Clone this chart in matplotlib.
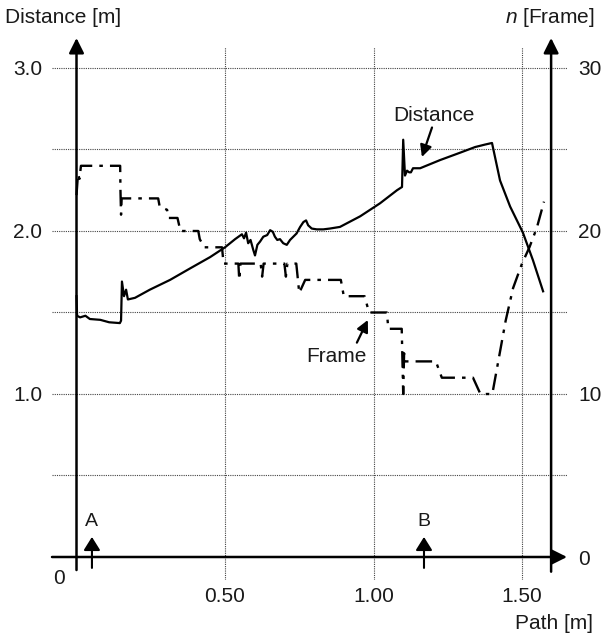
import matplotlib
matplotlib.use("Agg")
import matplotlib.pyplot as plt

plt.rcParams['font.family'] = ['Liberation Sans', 'DejaVu Sans']
plt.rcParams['mathtext.fontset'] = 'custom'
plt.rcParams['mathtext.it'] = 'Liberation Sans:italic'
plt.rcParams['mathtext.rm'] = 'Liberation Sans'

# distance to target [m] along the path [m]
dist_x = [0.0, 0.002, 0.012, 0.03, 0.045, 0.08, 0.11, 0.146, 0.15, 0.153, 0.16, 0.167, 0.173,
          0.197, 0.247, 0.315, 0.382, 0.45, 0.50, 0.534, 0.557, 0.564, 0.571, 0.578, 0.586,
          0.595, 0.601, 0.609, 0.618, 0.629, 0.642, 0.652, 0.661, 0.668, 0.676, 0.685, 0.696,
          0.708, 0.719, 0.730, 0.741, 0.753, 0.764, 0.773, 0.780, 0.792, 0.809, 0.831, 0.853,
          0.887, 0.955, 1.022, 1.079, 1.096, 1.10, 1.106, 1.113, 1.12, 1.126, 1.133, 1.157,
          1.224, 1.291, 1.342, 1.375, 1.399, 1.426, 1.46, 1.503, 1.537, 1.571]
dist_y = [1.60, 1.48, 1.47, 1.48, 1.46, 1.455, 1.44, 1.435, 1.45, 1.69, 1.60, 1.64, 1.58,
          1.59, 1.64, 1.70, 1.77, 1.84, 1.90, 1.95, 1.98, 1.955, 1.99, 1.925, 1.945,
          1.885, 1.85, 1.915, 1.935, 1.965, 1.975, 2.005, 1.995, 1.965, 1.945, 1.95, 1.925,
          1.915, 1.945, 1.965, 1.985, 2.025, 2.055, 2.065, 2.035, 2.015, 2.01, 2.01, 2.015,
          2.025, 2.09, 2.17, 2.25, 2.27, 2.56, 2.34, 2.37, 2.36, 2.36, 2.385, 2.385,
          2.435, 2.48, 2.515, 2.53, 2.54, 2.31, 2.15, 1.99, 1.82, 1.63]

# frame number n along the path [m]
frame_x = [0.0, 0.005, 0.01, 0.015, 0.147, 0.148, 0.15, 0.152, 0.275, 0.28, 0.305, 0.31,
           0.34, 0.35, 0.41, 0.415, 0.43, 0.49, 0.495, 0.545, 0.548, 0.552, 0.62, 0.625,
           0.63, 0.70, 0.705, 0.71, 0.74, 0.75, 0.77, 0.89, 0.90, 0.97, 0.985, 1.045, 1.05,
           1.095, 1.10, 1.103, 1.105, 1.21, 1.23, 1.335, 1.36, 1.40, 1.42, 1.445, 1.47,
           1.50, 1.525, 1.55, 1.574]
frame_n = [22.2, 23.5, 23.2, 24, 24, 22.5, 21, 22, 22, 21.5, 21.3, 20.8,
           20.8, 20, 20, 19.5, 19, 19, 18, 18, 17, 18, 18, 17.2,
           18, 18, 17.2, 18, 18, 16.2, 17, 17, 16, 16, 15, 15, 14,
           14, 10, 12.5, 12, 12, 11, 11, 10, 10, 12, 14.5, 16.5,
           18, 19, 20.2, 21.8]

marker_x = [0.052, 1.17]
marker_labels = ['A', 'B']

fig = plt.figure(figsize=(6.04, 6.35), dpi=100)
ax = fig.add_axes([52 / 604, 1 - 580 / 635, (567 - 52) / 604, (580 - 47) / 635])
ax.set_xlim(-0.0825, 1.6515)
ax.set_ylim(-0.1411, 3.1288)
ax2 = ax.twinx()
ax2.set_ylim(-1.411, 31.288)

for a in (ax, ax2):
    for s in a.spines.values():
        s.set_visible(False)

ink = '#1a1a1a'
fs = 15
ax.set_xticks([0.5, 1.0, 1.5], ['0.50', '1.00', '1.50'])
ax.set_yticks([1.0, 2.0, 3.0], ['1.0', '2.0', '3.0'])
ax.set_yticks([0.5, 1.5, 2.5], minor=True)
ax.tick_params(axis='x', length=0, pad=5, labelsize=fs, labelcolor=ink)
ax.tick_params(axis='y', which='both', length=0, pad=7, labelsize=fs, labelcolor=ink)
ax2.set_yticks([0, 10, 20, 30], ['0', '10', '20', '30'])
ax2.tick_params(axis='y', length=0, pad=8, labelsize=fs, labelcolor=ink)
ax.grid(True, which='both', color='#444444', linestyle=(0, (1, 1)), linewidth=0.8)

ax.plot(dist_x, dist_y, color='black', lw=1.6, zorder=3)
ax.plot(frame_x, [n / 10 for n in frame_n], color='black', lw=1.7,
        linestyle=(0, (7, 3, 1.5, 3)), zorder=3)

axis_arrow = dict(arrowstyle='-|>,head_length=0.9,head_width=0.45', lw=1.8,
                  color='black', shrinkA=0, shrinkB=0, mutation_scale=10)
ax.annotate('', xy=(0, 3.184), xytext=(0, -0.08), arrowprops=axis_arrow, annotation_clip=False)
ax.annotate('', xy=(1.598, 3.184), xytext=(1.598, -0.09), arrowprops=axis_arrow, annotation_clip=False)
ax.annotate('', xy=(1.6515, 0), xytext=(-0.0825, 0), arrowprops=axis_arrow, annotation_clip=False)

small_arrow = dict(arrowstyle='-|>,head_length=0.8,head_width=0.5', lw=1.5,
                   color='black', shrinkA=0, shrinkB=0, mutation_scale=10)
for mx, ml in zip(marker_x, marker_labels):
    ax.annotate('', xy=(mx, 0.123), xytext=(mx, -0.067), arrowprops=small_arrow, annotation_clip=False)
    ax.text(mx, 0.215, ml, ha='center', va='center', fontsize=14, color=ink)

note_arrow = dict(arrowstyle='-|>,head_length=0.7,head_width=0.35', lw=1.6,
                  color='black', shrinkA=0, shrinkB=0, mutation_scale=10)
ax.text(1.204, 2.71, 'Distance', ha='center', va='center', fontsize=fs, color=ink)
ax.annotate('', xy=(1.163, 2.454), xytext=(1.197, 2.635), arrowprops=note_arrow)
ax.text(0.874, 1.227, 'Frame', ha='center', va='center', fontsize=fs, color=ink)
ax.annotate('', xy=(0.981, 1.454), xytext=(0.944, 1.315), arrowprops=note_arrow)

ax.text(-0.241, 3.307, 'Distance [m]', ha='left', va='center', fontsize=fs, color=ink, clip_on=False)
ax.text(1.745, 3.307, '$n$ [Frame]', ha='right', va='center', fontsize=fs, color=ink, clip_on=False)
ax.text(1.74, -0.405, 'Path [m]', ha='right', va='center', fontsize=fs, color=ink, clip_on=False)
ax.text(-0.06, -0.13, '0', ha='center', va='center', fontsize=fs, color=ink, clip_on=False)

fig.savefig('out.png', dpi=100)
